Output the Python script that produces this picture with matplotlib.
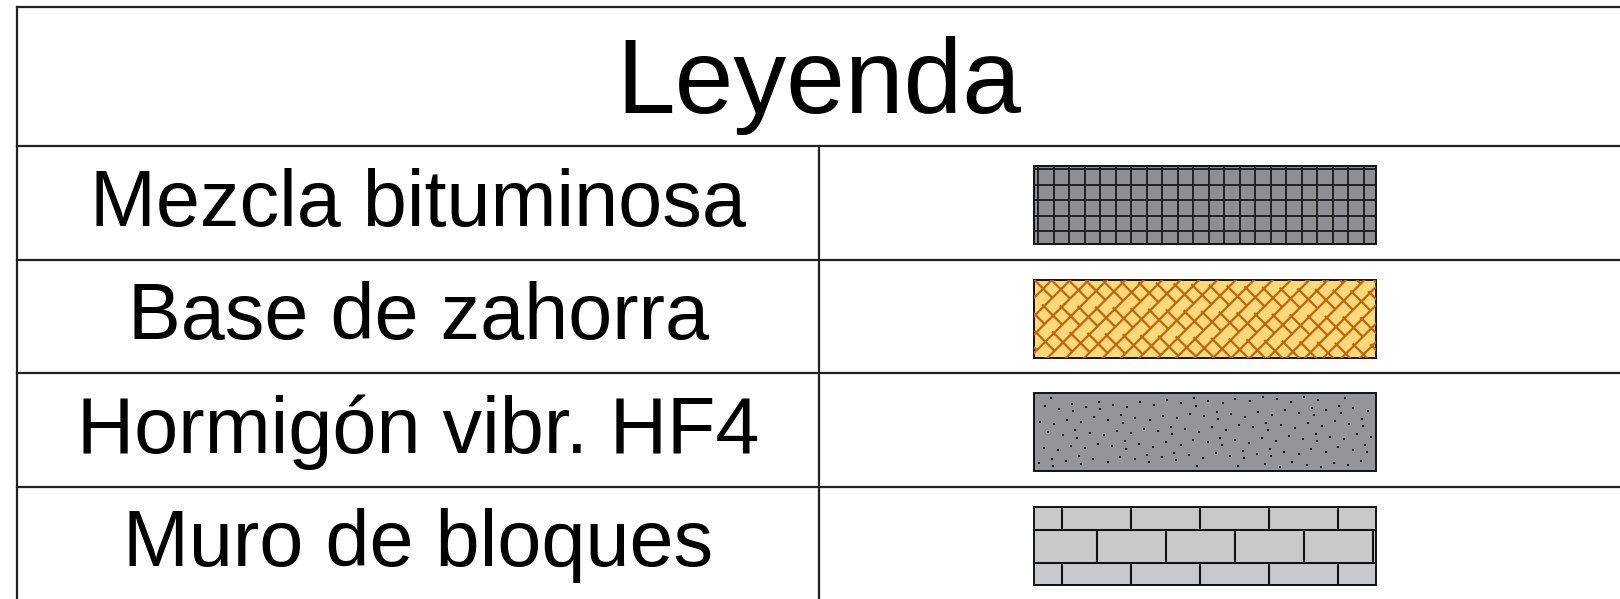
import numpy as np
import matplotlib
matplotlib.use('Agg')
import matplotlib.pyplot as plt
from matplotlib.patches import Rectangle

plt.rcParams['font.family'] = ['Liberation Sans', 'DejaVu Sans']

# legend content
title = 'Leyenda'
labels = ['Mezcla bituminosa', 'Base de zahorra', 'Hormigón vibr. HF4', 'Muro de bloques']
fills = ['#8e8f92', '#ffd97a', '#939598', '#c8c9cb']
line_colors = ['#1a1a1a', '#c0650a', '#111111', '#111111']
patterns = ['grid', 'zahorra', 'dots', 'bricks']

W, H = 1620, 599
fig = plt.figure(figsize=(W / 100, H / 100), dpi=100)
ax = fig.add_axes([0, 0, 1, 1])
ax.set_xlim(0, W)
ax.set_ylim(H, 0)
ax.axis('off')

# table frame (pixel coordinates)
x0, x_split, x1 = 17, 819, 1630
y_top, y_head, row_h = 7, 146, 113.5
lw_tab = 1.6
ax.plot([x0, x1], [y_top, y_top], color='#222222', lw=lw_tab)
ax.plot([x0, x0], [y_top, H + 5], color='#222222', lw=lw_tab)
ax.plot([x_split, x_split], [y_head, H + 5], color='#222222', lw=lw_tab)
for k in range(len(labels)):
    yy = y_head + k * row_h
    ax.plot([x0, x1], [yy, yy], color='#222222', lw=lw_tab)

ax.text((x0 + x1 - 10) / 2, 113, title, fontsize=76, ha='center', va='baseline')


def clip_lines(segs, rect, color, lw):
    for (xa, ya), (xb, yb) in segs:
        ln, = ax.plot([xa, xb], [ya, yb], color=color, lw=lw, solid_capstyle='butt')
        ln.set_clip_path(rect)


def draw_grid(rect, x, y, w, h, color):
    segs = []
    for xx in np.arange(x + 4, x + w, 15.5):
        segs.append(((xx, y), (xx, y + h)))
    for yy in np.arange(y + 3, y + h, 15.5):
        segs.append(((x, yy), (x + w, yy)))
    clip_lines(segs, rect, color, 1.3)


def draw_zahorra(rect, x, y, w, h, color):
    s, L = 13.0, 36.0
    r2 = np.sqrt(2)
    u = np.array([1, -1]) / r2   # "/" direction
    v = np.array([1, 1]) / r2    # perpendicular
    c = np.array([x, y])
    segs = []
    for k in range(-30, 40):
        p = c + v * k * s
        segs.append((tuple(p - u * 400), tuple(p + u * 400)))
        off = (k % 3) * L / 3
        for j in range(-20, 20):
            q = c + v * k * s + u * (j * L + off)
            segs.append((tuple(q - v * 2.5), tuple(q + v * (2 * s))))
    clip_lines(segs, rect, color, 1.6)


def draw_dots(rect, x, y, w, h, color):
    # scattered aggregate texture: low-discrepancy points in a w x w square,
    # keeping the ones that fall inside the swatch
    n = np.arange(720)
    ux = (0.37 + n * 0.7548776662) % 1
    uy = (0.61 + n * 0.5698402910) % 1
    px = x + 3 + (w - 6) * ux
    py = y + 3 + (w - 6) * uy
    keep = py < y + h - 3
    sc = ax.scatter(px[keep], py[keep], s=3, color=color, marker='s', linewidths=0)
    sc.set_clip_path(rect)


def draw_bricks(rect, x, y, w, h, color):
    ch, bl = 33.0, 69.0
    segs = []
    first = y + 23 - ch
    for i in range(4):
        yt = first + i * ch
        segs.append(((x, yt), (x + w, yt)))
        start = x + 28 + (i % 2) * bl / 2 - bl
        for xx in np.arange(start, x + w, bl):
            segs.append(((xx, yt), (xx, yt + ch)))
    clip_lines(segs, rect, color, 1.5)


drawers = {'grid': draw_grid, 'zahorra': draw_zahorra, 'dots': draw_dots, 'bricks': draw_bricks}

sx, sw, sh = 1034, 342, 78
for i, (lab, fc, lc, pat) in enumerate(zip(labels, fills, line_colors, patterns)):
    top = y_head + i * row_h
    ax.text((x0 + x_split) / 2, top + row_h / 2 + 23, lab, fontsize=57,
            ha='center', va='baseline')
    sy = top + 20
    rect = Rectangle((sx, sy), sw, sh, facecolor=fc, edgecolor='none')
    ax.add_patch(rect)
    drawers[pat](rect, sx, sy, sw, sh, lc)
    ax.add_patch(Rectangle((sx, sy), sw, sh, fill=False, edgecolor='#111111', lw=1.4))

fig.savefig('out.png', dpi=100)
